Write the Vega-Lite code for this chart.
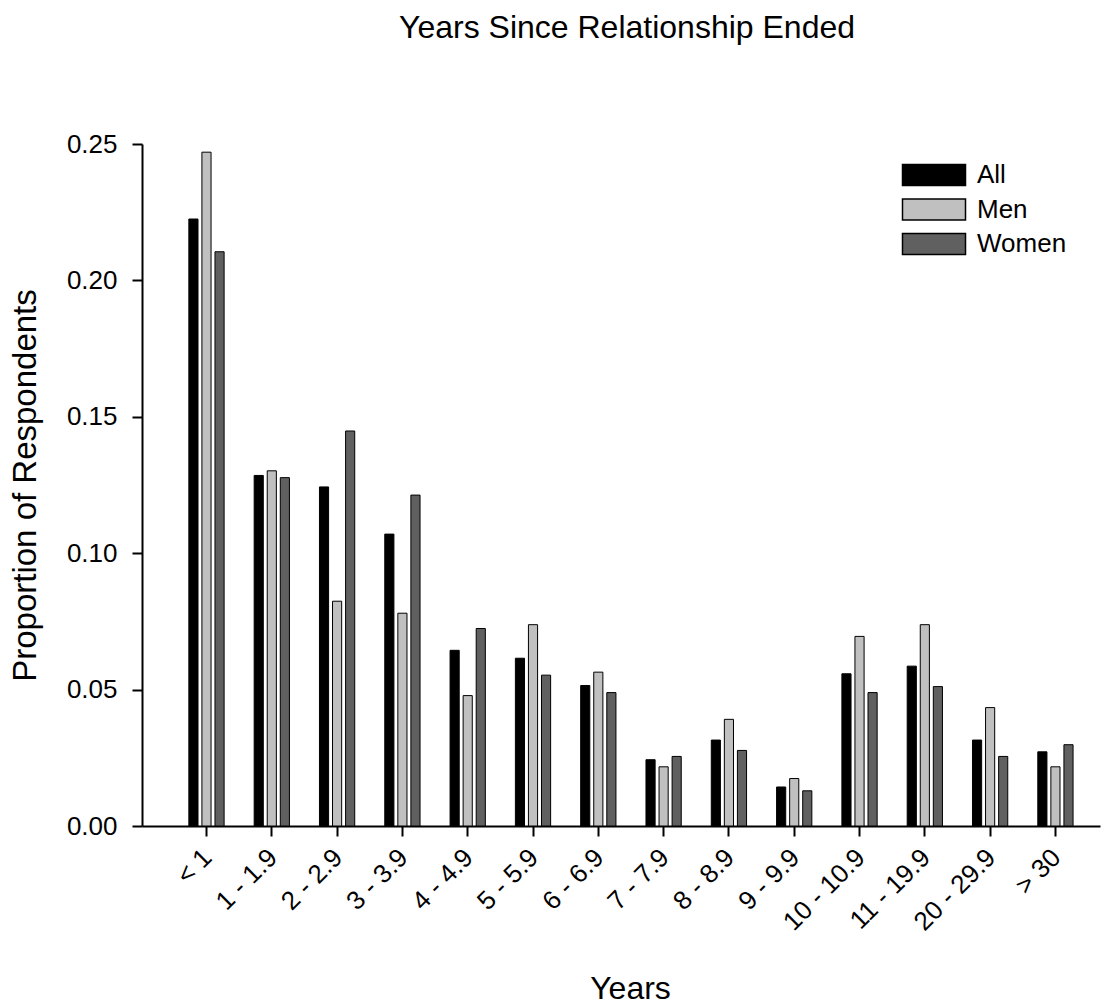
{
  "$schema": "https://vega.github.io/schema/vega-lite/v6.json",
  "width": 958,
  "height": 682,
  "autosize": "none",
  "padding": {"left": 142, "top": 144, "right": 7, "bottom": 179},
  "background": "white",
  "title": {"text": "Years Since Relationship Ended", "fontSize": 32, "font": "Liberation Sans", "fontWeight": "normal", "color": "black", "offset": 86, "anchor": "middle", "dx": 6},
  "data": {"values": [
    {"years": "< 1", "group": "All", "value": 0.2225},
    {"years": "< 1", "group": "Men", "value": 0.2470},
    {"years": "< 1", "group": "Women", "value": 0.2105},
    {"years": "1 - 1.9", "group": "All", "value": 0.1285},
    {"years": "1 - 1.9", "group": "Men", "value": 0.1302},
    {"years": "1 - 1.9", "group": "Women", "value": 0.1277},
    {"years": "2 - 2.9", "group": "All", "value": 0.1243},
    {"years": "2 - 2.9", "group": "Men", "value": 0.0824},
    {"years": "2 - 2.9", "group": "Women", "value": 0.1448},
    {"years": "3 - 3.9", "group": "All", "value": 0.1070},
    {"years": "3 - 3.9", "group": "Men", "value": 0.0780},
    {"years": "3 - 3.9", "group": "Women", "value": 0.1213},
    {"years": "4 - 4.9", "group": "All", "value": 0.0644},
    {"years": "4 - 4.9", "group": "Men", "value": 0.0478},
    {"years": "4 - 4.9", "group": "Women", "value": 0.0724},
    {"years": "5 - 5.9", "group": "All", "value": 0.0615},
    {"years": "5 - 5.9", "group": "Men", "value": 0.0738},
    {"years": "5 - 5.9", "group": "Women", "value": 0.0553},
    {"years": "6 - 6.9", "group": "All", "value": 0.0515},
    {"years": "6 - 6.9", "group": "Men", "value": 0.0564},
    {"years": "6 - 6.9", "group": "Women", "value": 0.0489},
    {"years": "7 - 7.9", "group": "All", "value": 0.0243},
    {"years": "7 - 7.9", "group": "Men", "value": 0.0217},
    {"years": "7 - 7.9", "group": "Women", "value": 0.0255},
    {"years": "8 - 8.9", "group": "All", "value": 0.0315},
    {"years": "8 - 8.9", "group": "Men", "value": 0.0391},
    {"years": "8 - 8.9", "group": "Women", "value": 0.0277},
    {"years": "9 - 9.9", "group": "All", "value": 0.0143},
    {"years": "9 - 9.9", "group": "Men", "value": 0.0174},
    {"years": "9 - 9.9", "group": "Women", "value": 0.0129},
    {"years": "10 - 10.9", "group": "All", "value": 0.0558},
    {"years": "10 - 10.9", "group": "Men", "value": 0.0695},
    {"years": "10 - 10.9", "group": "Women", "value": 0.0489},
    {"years": "11 - 19.9", "group": "All", "value": 0.0586},
    {"years": "11 - 19.9", "group": "Men", "value": 0.0738},
    {"years": "11 - 19.9", "group": "Women", "value": 0.0511},
    {"years": "20 - 29.9", "group": "All", "value": 0.0315},
    {"years": "20 - 29.9", "group": "Men", "value": 0.0434},
    {"years": "20 - 29.9", "group": "Women", "value": 0.0255},
    {"years": "> 30", "group": "All", "value": 0.0272},
    {"years": "> 30", "group": "Men", "value": 0.0217},
    {"years": "> 30", "group": "Women", "value": 0.0298}
  ]},
  "mark": {"type": "bar", "stroke": "black", "strokeWidth": 1},
  "encoding": {
    "x": {
      "field": "years", "type": "nominal",
      "sort": ["< 1", "1 - 1.9", "2 - 2.9", "3 - 3.9", "4 - 4.9", "5 - 5.9", "6 - 6.9", "7 - 7.9", "8 - 8.9", "9 - 9.9", "10 - 10.9", "11 - 19.9", "20 - 29.9", "> 30"],
      "scale": {"paddingInner": 0.46, "paddingOuter": 0.565, "align": 0.635},
      "axis": {
        "title": "Years", "titleFontSize": 32, "titleFont": "Liberation Sans", "titleFontWeight": "normal", "titleColor": "black", "titlePadding": 39, "titleX": 488, "titleAlign": "center",
        "labelAngle": -45, "labelFontSize": 26, "labelFont": "Liberation Sans", "labelColor": "black", "labelPadding": 8, "labelOffset": -8,
        "tickSize": 10, "tickWidth": 2, "tickColor": "black", "domainColor": "black", "domainWidth": 2, "grid": false
      }
    },
    "xOffset": {"field": "group", "type": "nominal", "sort": ["All", "Men", "Women"], "scale": {"paddingInner": 0.3, "paddingOuter": 0}},
    "y": {
      "field": "value", "type": "quantitative",
      "scale": {"domain": [0, 0.25], "nice": false},
      "axis": {
        "title": "Proportion of Respondents", "titleFontSize": 33, "titleFont": "Liberation Sans", "titleFontWeight": "normal", "titleColor": "black", "titlePadding": 24,
        "values": [0, 0.05, 0.1, 0.15, 0.2, 0.25], "format": ".2f",
        "labelFontSize": 26, "labelFont": "Liberation Sans", "labelColor": "black", "labelPadding": 15,
        "tickSize": 10, "tickWidth": 2, "tickColor": "black", "domainColor": "black", "domainWidth": 2, "grid": false
      }
    },
    "fill": {
      "field": "group", "type": "nominal",
      "scale": {"domain": ["All", "Men", "Women"], "range": ["#000000", "#c0c0c0", "#606060"]},
      "legend": {
        "title": null, "orient": "none", "legendX": 758, "legendY": 18, "padding": 0,
        "symbolType": "M-1,-1H5V1H-1Z", "symbolSize": 441, "symbolStrokeColor": "black", "symbolStrokeWidth": 1.5,
        "labelFontSize": 26, "labelFont": "Liberation Sans", "labelColor": "black", "labelOffset": 51, "rowPadding": 6.5
      }
    }
  },
  "config": {"view": {"stroke": null}}
}
